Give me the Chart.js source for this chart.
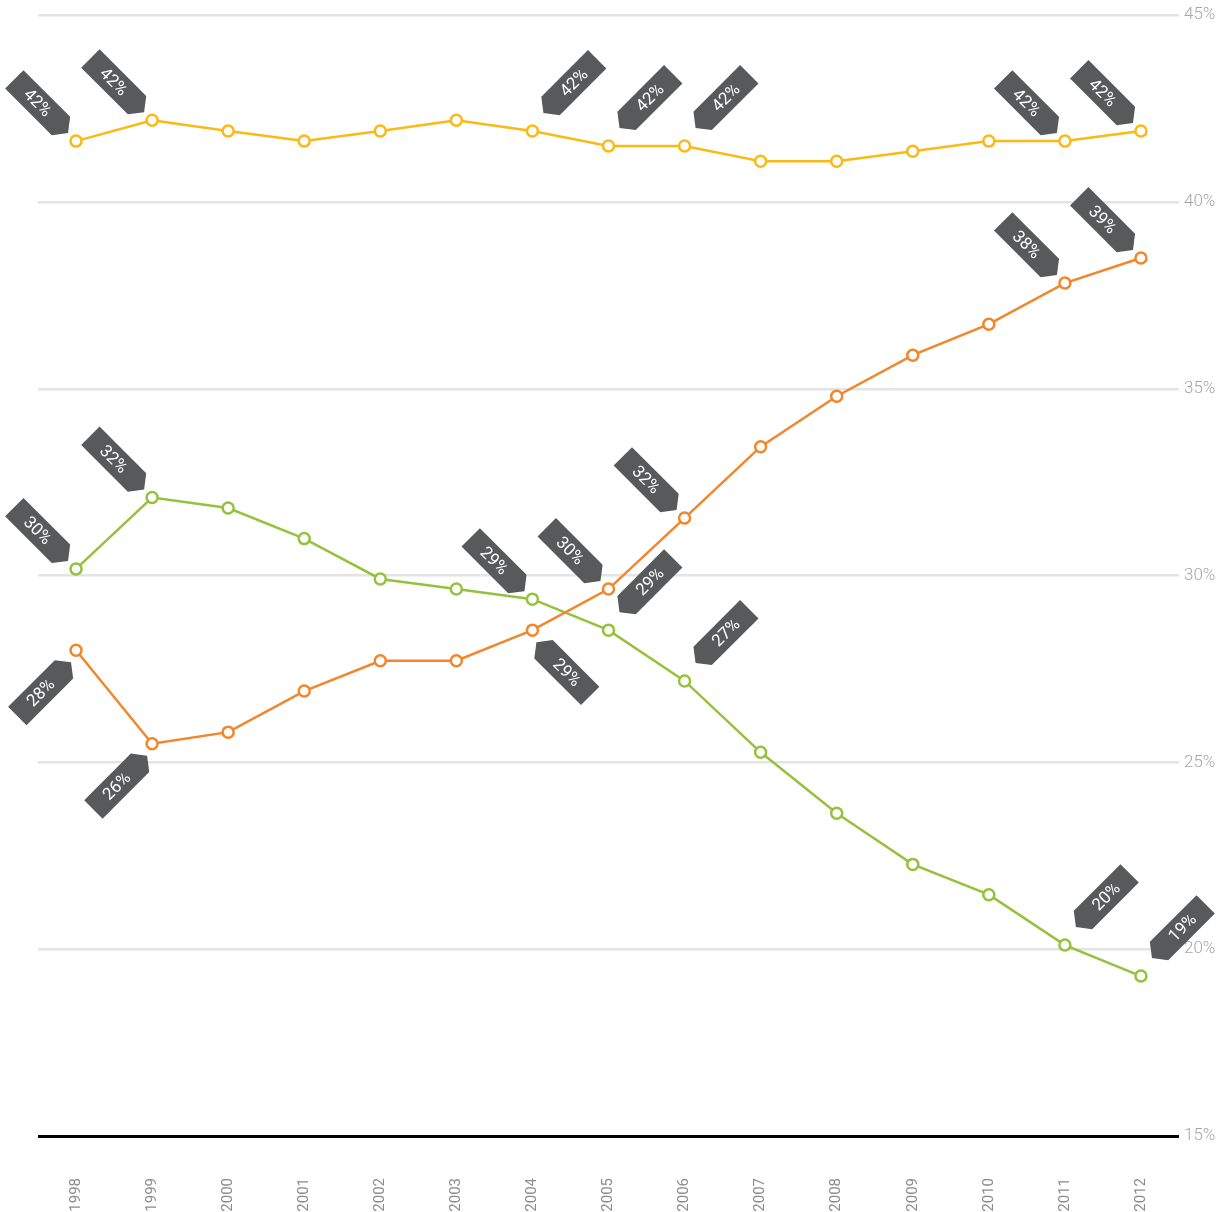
<!DOCTYPE html>
<html>
<head>
<meta charset="utf-8">
<script src="https://cdn.jsdelivr.net/npm/chart.js@4"></script>
<style>
  html, body { margin: 0; padding: 0; background: #fff; }
  #wrap { width: 1232px; height: 1212px; position: relative; }
</style>
</head>
<body>
<div id="wrap"><canvas id="shareChart"></canvas></div>
<script>
// years on the x axis
const years = ['1998', '1999', '2000', '2001', '2002', '2003', '2004', '2005',
               '2006', '2007', '2008', '2009', '2010', '2011', '2012'];

// percentages per year
const yellowSeries = [41.63, 42.19, 41.90, 41.63, 41.90, 42.19, 41.90, 41.50,
                      41.50, 41.09, 41.09, 41.36, 41.63, 41.63, 41.90];
const orangeSeries = [28.00, 25.50, 25.81, 26.91, 27.72, 27.72, 28.54, 29.64,
                      31.54, 33.45, 34.80, 35.90, 36.73, 37.83, 38.50];
const greenSeries  = [30.18, 32.09, 31.81, 30.99, 29.91, 29.64, 29.37, 28.54,
                      27.18, 25.27, 23.64, 22.27, 21.46, 20.11, 19.28];

// y axis range and step
const yMin = 15;
const yMax = 45;
const yStep = 5;

// which points carry a value tag, and on which side (ul/ur/dl/dr)
const yellowTags = ['ul', 'ul', null, null, null, null, 'ur', 'ur',
                    'ur', null, null, null, null, 'ul', 'ul'];
const orangeTags = ['dl', 'dl', null, null, null, null, 'dr', 'ul',
                    'ul', null, null, null, null, 'ul', 'ul'];
const greenTags  = ['ul', 'ul', null, null, null, null, 'ul', 'ur',
                    'ur', null, null, null, null, 'ur', 'ur'];

const TAG_FILL = '#58595b';

// offset from the point to the tag tip, and the direction the body runs
const tagGeometry = {
    ul: { tip: [-8, -8],  dir: [-1, -1], rot:  Math.PI / 4 },
    ur: { tip: [11, -18], dir: [ 1, -1], rot: -Math.PI / 4 },
    dl: { tip: [-5, 12],  dir: [-1,  1], rot: -Math.PI / 4 },
    dr: { tip: [4, 12],   dir: [ 1,  1], rot:  Math.PI / 4 }
};

const valueTags = {
    id: 'valueTags',
    afterDatasetsDraw: function (chart) {
        const ctx = chart.ctx;
        const tagLen = 76, tagWidth = 26, tipLen = 10;
        chart.data.datasets.forEach(function (ds, i) {
            const meta = chart.getDatasetMeta(i);
            ds.tags.forEach(function (side, j) {
                if (!side) return;
                const g = tagGeometry[side];
                const pt = meta.data[j];
                const tx = pt.x + g.tip[0];
                const ty = pt.y + g.tip[1];
                ctx.save();
                ctx.translate(tx, ty);
                // body runs along +x after this rotation
                ctx.rotate(Math.atan2(g.dir[1], g.dir[0]));
                ctx.beginPath();
                ctx.moveTo(0, 0);
                ctx.lineTo(tipLen, -tagWidth / 2);
                ctx.lineTo(tagLen, -tagWidth / 2);
                ctx.lineTo(tagLen, tagWidth / 2);
                ctx.lineTo(tipLen, tagWidth / 2);
                ctx.closePath();
                ctx.fillStyle = TAG_FILL;
                ctx.fill();
                ctx.restore();

                const mid = tipLen + (tagLen - tipLen) / 2;
                const cx = tx + g.dir[0] * mid / Math.SQRT2;
                const cy = ty + g.dir[1] * mid / Math.SQRT2;
                ctx.save();
                ctx.translate(cx, cy);
                ctx.rotate(g.rot);
                ctx.fillStyle = '#ffffff';
                ctx.font = '17px Roboto, "DejaVu Sans", sans-serif';
                ctx.textAlign = 'center';
                ctx.textBaseline = 'middle';
                ctx.fillText(Math.round(ds.data[j]) + '%', 0, 1);
                ctx.restore();
            });
        });
    }
};

function lineSet(values, color, tags) {
    return {
        data: values,
        tags: tags,
        borderColor: color,
        borderWidth: 2.5,
        pointRadius: 5.5,
        pointBorderWidth: 2.5,
        pointBackgroundColor: '#ffffff',
        pointBorderColor: color,
        tension: 0
    };
}

new Chart(document.getElementById('shareChart'), {
    type: 'line',
    data: {
        labels: years,
        datasets: [
            lineSet(yellowSeries, '#fbb916', yellowTags),
            lineSet(orangeSeries, '#f2862a', orangeTags),
            lineSet(greenSeries, '#95c23c', greenTags)
        ]
    },
    plugins: [valueTags],
    options: {
        responsive: true,
        maintainAspectRatio: false,
        animation: false,
        layout: { padding: { left: 38, top: 15, right: 0, bottom: 0 } },
        plugins: {
            legend: { display: false },
            tooltip: { enabled: false }
        },
        scales: {
            x: {
                offset: true,
                grid: { display: false },
                border: { display: false },
                ticks: {
                    minRotation: 90,
                    maxRotation: 90,
                    padding: 34,
                    color: '#8c8c8c',
                    font: { family: 'Roboto, "DejaVu Sans", sans-serif', size: 15 }
                },
                afterFit: function (scale) { scale.height = 76; }
            },
            y: {
                position: 'right',
                min: yMin,
                max: yMax,
                border: { display: false },
                grid: {
                    drawTicks: false,
                    color: function (c) { return c.tick.value === yMin ? '#000000' : '#e4e4e4'; },
                    lineWidth: function (c) { return c.tick.value === yMin ? 3 : 2.5; }
                },
                ticks: {
                    stepSize: yStep,
                    padding: 5,
                    color: '#a6a6a6',
                    font: { family: 'Roboto, "DejaVu Sans", sans-serif', size: 17, weight: '300' },
                    callback: function (v) { return v + '%'; }
                },
                afterFit: function (scale) { scale.width = 53; }
            }
        }
    }
});
</script>
</body>
</html>
